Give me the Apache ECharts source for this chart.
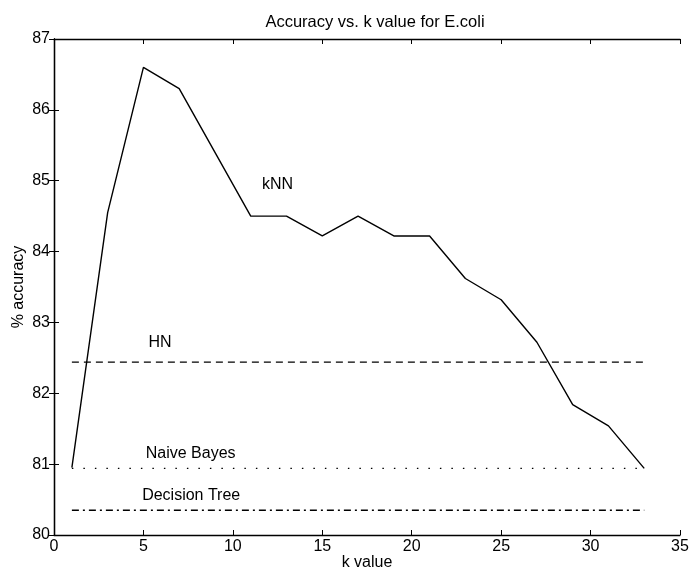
<!DOCTYPE html>
<html>
<head>
<meta charset="utf-8">
<script src="https://cdn.jsdelivr.net/npm/echarts@6/dist/echarts.min.js"></script>
<style>html,body{margin:0;padding:0;background:#fff;}#c{width:689px;height:573px;}</style>
</head>
<body>
<div id="c"></div>
<script>
const kValues = [1,3,5,7,9,11,13,15,17,19,21,23,25,27,29,31,33];
const knnAccuracy = [80.95,84.55,86.6,86.3,85.4,84.5,84.5,84.22,84.5,84.22,84.22,83.62,83.32,82.72,81.84,81.54,80.94];
const hnAccuracy = 82.44;
const naiveBayesAccuracy = 80.94;
const decisionTreeAccuracy = 80.35;
const baselineRange = [1, 33];
const annotationText = ['kNN','HN','Naive Bayes','Decision Tree'];
const annotationX = [11.6, 5.25, 5.1, 4.9];
const annotationY = [84.94, 82.71, 81.15, 80.55];

const chart = echarts.init(document.getElementById('c'));
const font = 'Liberation Sans';
const black = '#000';
const hline = (v) => baselineRange.map(x => [x, v]);
const tick = {show: true, inside: true, length: 5, lineStyle: {color: black, width: 1}};
const line = {show: true, lineStyle: {color: black, width: 1.3}};

chart.setOption({
  animation: false,
  backgroundColor: '#fff',
  title: {
    text: 'Accuracy vs. k value for E.coli',
    left: 370, textAlign: 'center', top: 9,
    textStyle: {fontFamily: font, fontSize: 16.5, fontWeight: 'normal', color: black}
  },
  grid: {left: 54, right: 9, top: 39, bottom: 38, containLabel: false, outerBoundsMode: 'none'},
  xAxis: [{
    type: 'value', min: 0, max: 35, interval: 5,
    name: 'k value', nameLocation: 'middle', nameGap: 20, nameMoveOverlap: false,
    nameTextStyle: {fontFamily: font, fontSize: 16, color: black},
    axisLine: line, axisTick: tick,
    axisLabel: {fontFamily: font, fontSize: 16, color: black, margin: 4},
    splitLine: {show: false}
  }, {
    type: 'value', min: 0, max: 35, interval: 5, position: 'top',
    axisLine: line, axisTick: tick,
    axisLabel: {show: false}, splitLine: {show: false}
  }],
  yAxis: [{
    type: 'value', min: 80, max: 87, interval: 1,
    name: '% accuracy', nameLocation: 'middle', nameGap: 27, nameMoveOverlap: false,
    nameTextStyle: {fontFamily: font, fontSize: 16, color: black},
    axisLine: line, axisTick: tick,
    axisLabel: {fontFamily: font, fontSize: 16, color: black, margin: 4},
    splitLine: {show: false}
  }, {
    type: 'value', min: 80, max: 87, interval: 1, position: 'right',
    axisLine: line, axisTick: tick,
    axisLabel: {show: false}, splitLine: {show: false}
  }],
  series: [{
    name: 'kNN', type: 'line', symbol: 'none',
    data: kValues.map((k, i) => [k, knnAccuracy[i]]),
    lineStyle: {color: black, width: 1.4}
  }, {
    name: 'HN', type: 'line', symbol: 'none',
    data: hline(hnAccuracy),
    lineStyle: {color: black, width: 1.3, type: [7, 5]}
  }, {
    name: 'Naive Bayes', type: 'line', symbol: 'none',
    data: hline(naiveBayesAccuracy),
    lineStyle: {color: black, width: 1.3, type: [1.5, 10]}
  }, {
    name: 'Decision Tree', type: 'line', symbol: 'none',
    data: hline(decisionTreeAccuracy),
    lineStyle: {color: black, width: 1.4, type: [7, 4, 2, 4]}
  }, {
    name: 'labels', type: 'scatter', symbolSize: 1,
    itemStyle: {opacity: 0},
    data: annotationText.map((t, i) => ({value: [annotationX[i], annotationY[i]], name: t})),
    label: {
      show: true, position: 'right', distance: 0,
      formatter: p => p.name,
      fontFamily: font, fontSize: 16, color: black, opacity: 1
    }
  }]
});
</script>
</body>
</html>
